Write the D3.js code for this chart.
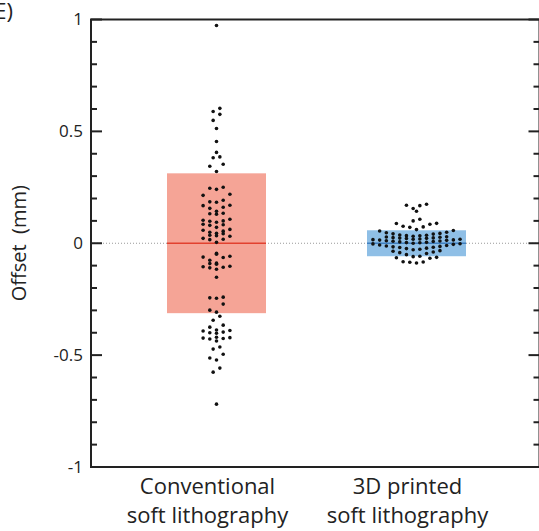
<!DOCTYPE html>
<html>
<head>
<meta charset="utf-8">
<script src="https://cdn.jsdelivr.net/npm/d3@7"></script>
<style>
  body { margin: 0; background: #fff; }
  text { font-family: "Open Sans", "Liberation Sans", sans-serif; fill: #222; }
</style>
</head>
<body>
<script>
// category labels (two lines each)
var categories = [["Conventional", "soft lithography"], ["3D printed", "soft lithography"]];

// offsets (mm)
var conventional = [0.973, 0.603, 0.589, 0.576, 0.549, 0.513, 0.455, 0.406, 0.386, 0.382,
  0.353, 0.344, 0.321, 0.250, 0.246, 0.241, 0.219, 0.214, 0.192, 0.185, 0.183,
  0.170, 0.168, 0.161, 0.156, 0.143, 0.134, 0.132, 0.130,
  0.107, 0.103, 0.100, 0.098, 0.094, 0.085, 0.083, 0.080, 0.071,
  0.062, 0.058, 0.054, 0.049, 0.045, 0.043, 0.036, 0.034, 0.031, 0.022, 0.018, 0.016, 0.004,
  -0.045, -0.049, -0.058, -0.062, -0.064, -0.076, -0.089, -0.091, -0.094, -0.103, -0.105,
  -0.107, -0.110, -0.116, -0.152, -0.241, -0.246, -0.244, -0.272, -0.299, -0.308,
  -0.326, -0.344, -0.366, -0.375, -0.388, -0.390, -0.392, -0.397, -0.400, -0.402,
  -0.420, -0.422, -0.424, -0.426, -0.428, -0.437, -0.464, -0.473, -0.496,
  -0.513, -0.522, -0.558, -0.576, -0.719];

var printed = [0.174, 0.170, 0.168, 0.155, 0.143, 0.107, 0.100, 0.089, 0.088, 0.085,
  0.076, 0.073, 0.071, 0.061, 0.057, 0.055, 0.049, 0.047, 0.044, 0.042, 0.041,
  0.037, 0.036, 0.034, 0.033, 0.031, 0.029, 0.028, 0.027, 0.025, 0.024, 0.023,
  0.022, 0.021, 0.019, 0.018, 0.018, 0.016, 0.015, 0.014, 0.013, 0.011, 0.010,
  0.009, 0.008, 0.006, 0.004, 0.003, 0.002, 0.000, -0.002, -0.003, -0.005, -0.008,
  -0.010, -0.012, -0.014, -0.016, -0.018, -0.019, -0.022, -0.024, -0.027, -0.029,
  -0.033, -0.036, -0.039, -0.042, -0.046, -0.051, -0.058, -0.060, -0.063, -0.065,
  -0.067, -0.083, -0.084, -0.085, -0.088];

// box half-heights (mm) and colours
var spread = [0.3125, 0.058];
var boxFill = ["#f5a496", "#8fbfe6"];
var meanStroke = ["#e2412f", "#3f7fbf"];
var binSize = [0.045, 0.03];
var maxCols = [5, 14];

var yTicks = [-1, -0.5, 0, 0.5, 1];

var width = 539,
    height = 531,
    plotLeft = 91,
    plotRight = 539.5,
    plotTop = 19.5,
    plotBottom = 467;

var svg = d3.select("body")
  .append("svg")
    .attr("width", width)
    .attr("height", height);

var y = d3.scaleLinear().domain([-1, 1]).range([plotBottom, plotTop]);
var x = d3.scaleLinear().domain([0, 1]).range([216.5, 416.5]);
var boxWidth = 99,
    colStep = 6.7;

// dotted zero line
svg.append("line")
  .attr("x1", plotLeft).attr("x2", plotRight)
  .attr("y1", y(0)).attr("y2", y(0))
  .attr("stroke", "#999")
  .attr("stroke-width", 1)
  .attr("stroke-dasharray", "1,2");

// boxes
var groups = svg.selectAll(".grp")
    .data([conventional, printed])
    .enter()
  .append("g")
    .attr("class", "grp");

groups.append("rect")
  .attr("x", function(d, i) { return x(i) - boxWidth / 2; })
  .attr("y", function(d, i) { return y(spread[i]); })
  .attr("width", boxWidth)
  .attr("height", function(d, i) { return y(-spread[i]) - y(spread[i]); })
  .attr("fill", function(d, i) { return boxFill[i]; });

groups.append("line")
  .attr("x1", function(d, i) { return x(i) - boxWidth / 2; })
  .attr("x2", function(d, i) { return x(i) + boxWidth / 2; })
  .attr("y1", y(0))
  .attr("y2", y(0))
  .attr("stroke", function(d, i) { return meanStroke[i]; })
  .attr("stroke-width", 1.5);

// spread the points sideways, bin by bin, stacking into a few columns
function layout(values, idx) {
  var bins = d3.group(values, function(v) { return Math.floor(v / binSize[idx]); });
  var pts = [];
  bins.forEach(function(vals) {
    vals = vals.slice().sort(d3.ascending);
    var n = Math.min(vals.length, maxCols[idx]);
    var slots = d3.range(n).map(function(k) { return k - (n - 1) / 2; })
      .sort(function(a, b) { return Math.abs(a) - Math.abs(b) || a - b; });
    vals.forEach(function(v, k) {
      pts.push({ v: v, x: x(idx) + slots[k % n] * colStep });
    });
  });
  return pts;
}

groups.selectAll("circle")
    .data(function(d, i) { return layout(d, i); })
    .enter()
  .append("circle")
    .attr("cx", function(p) { return p.x; })
    .attr("cy", function(p) { return y(p.v); })
    .attr("r", 1.8)
    .attr("fill", "#111");

// frame
svg.append("rect")
  .attr("x", plotLeft).attr("y", plotTop)
  .attr("width", plotRight - plotLeft).attr("height", plotBottom - plotTop)
  .attr("fill", "none")
  .attr("stroke", "#222")
  .attr("stroke-width", 2);

// ticks every 0.1, longer at 0.5 steps, on both sides, pointing inward
var minor = d3.range(-10, 11).map(function(k) { return k / 10; });
function tickLen(t) { return Math.round(t * 10) % 5 === 0 ? 11 : 6; }

svg.selectAll(".tl")
    .data(minor)
    .enter()
  .append("line")
    .attr("x1", plotLeft)
    .attr("x2", function(t) { return plotLeft + tickLen(t); })
    .attr("y1", function(t) { return y(t); })
    .attr("y2", function(t) { return y(t); })
    .attr("stroke", "#222").attr("stroke-width", 2);

svg.selectAll(".tr")
    .data(minor)
    .enter()
  .append("line")
    .attr("x1", plotRight)
    .attr("x2", function(t) { return plotRight - tickLen(t); })
    .attr("y1", function(t) { return y(t); })
    .attr("y2", function(t) { return y(t); })
    .attr("stroke", "#222").attr("stroke-width", 2);

svg.selectAll(".ytl")
    .data(yTicks)
    .enter()
  .append("text")
    .attr("x", plotLeft - 8)
    .attr("y", function(t) { return y(t); })
    .attr("dy", "0.35em")
    .attr("text-anchor", "end")
    .attr("font-size", 17)
    .text(function(t) { return t; });

// category labels
var cat = svg.selectAll(".cat")
    .data(categories)
    .enter()
  .append("text")
    .attr("text-anchor", "middle")
    .attr("font-size", 22);

cat.append("tspan")
  .attr("x", function(d, i) { return x(i) - 9; })
  .attr("y", 494)
  .text(function(d) { return d[0]; });
cat.append("tspan")
  .attr("x", function(d, i) { return x(i) - 9; })
  .attr("y", 523)
  .text(function(d) { return d[1]; });

svg.append("text")
  .attr("transform", "translate(26," + y(0) + ") rotate(-90)")
  .attr("text-anchor", "middle")
  .attr("font-size", 20)
  .attr("xml:space", "preserve")
  .text("Offset  (mm)");

svg.append("text")
  .attr("x", 13).attr("y", 19)
  .attr("text-anchor", "end")
  .attr("font-size", 22)
  .text("(E)");
</script>
</body>
</html>
